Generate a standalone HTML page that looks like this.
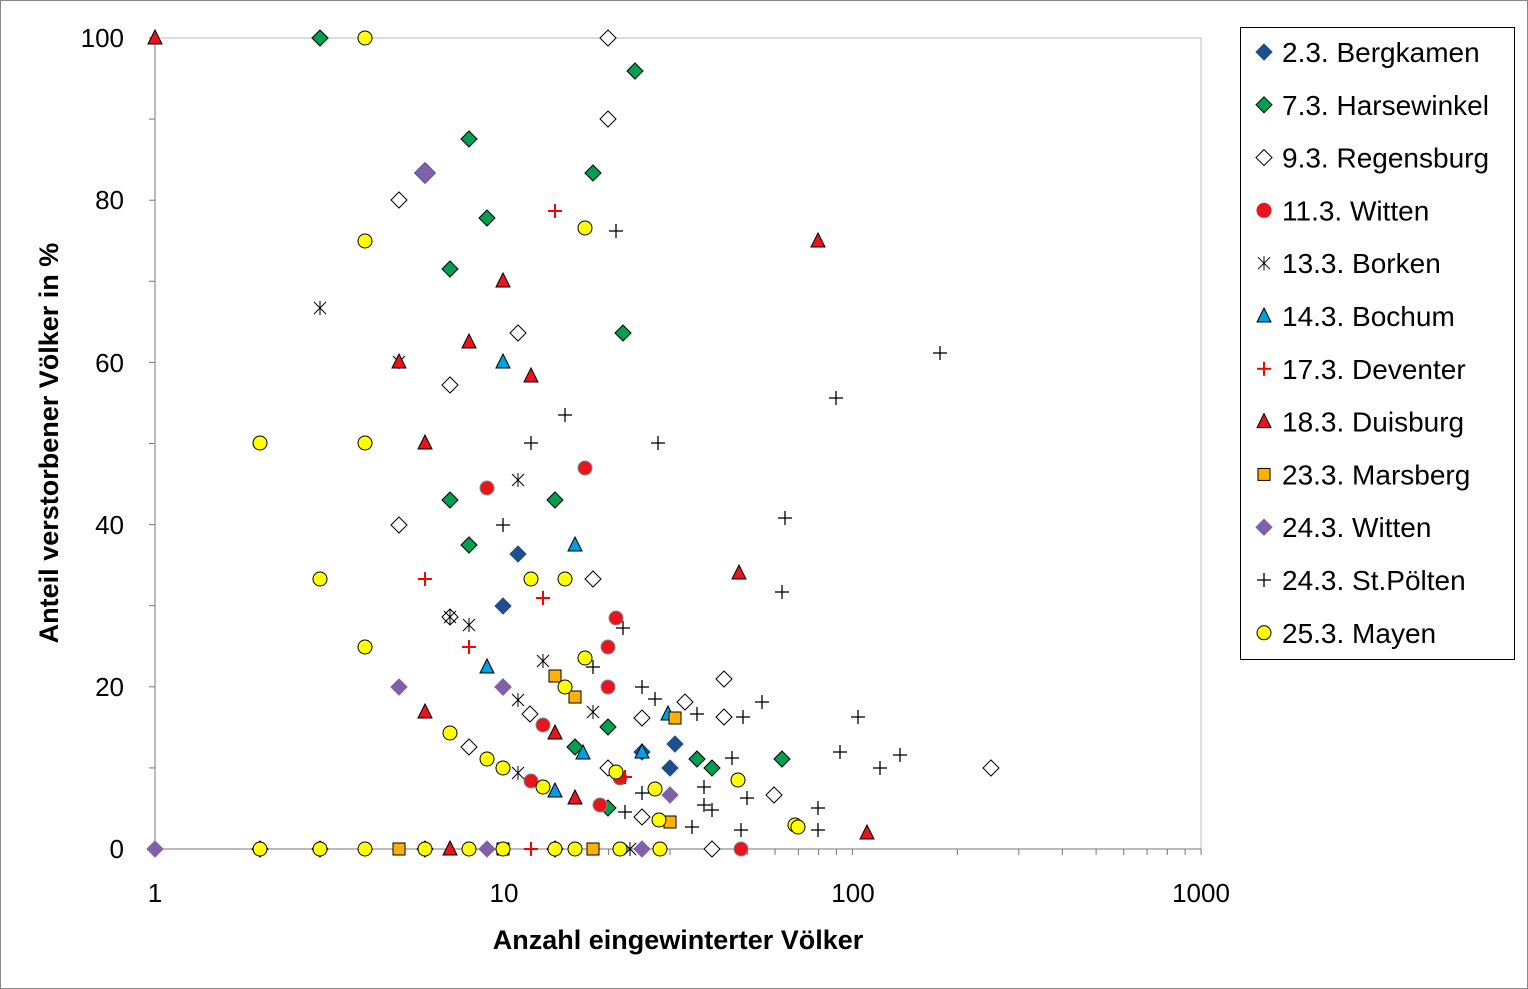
<!DOCTYPE html>
<html><head><meta charset="utf-8"><style>
html,body{margin:0;padding:0;background:#fff}
svg{display:block;font-family:"Liberation Sans",sans-serif}
</style></head><body>
<svg id="s" width="1528" height="989" xmlns="http://www.w3.org/2000/svg">
<rect x="0.5" y="0.5" width="1527" height="988" fill="#fff" stroke="#888"/>
<rect x="155" y="38" width="1046" height="811" fill="none" stroke="#bbb"/>
<g id="ticks" stroke="#777" stroke-width="1"></g>
<line x1="155" y1="38" x2="155" y2="849" stroke="#777"/>
<line x1="155" y1="849" x2="1201" y2="849" stroke="#777"/>
<g font-size="26" fill="#000" text-anchor="end">
<text x="124" y="47">100</text><text x="124" y="209">80</text><text x="124" y="372">60</text>
<text x="124" y="534">40</text><text x="124" y="696">20</text><text x="124" y="858">0</text>
</g>
<g font-size="26" text-anchor="middle">
<text x="155" y="902">1</text><text x="504" y="902">10</text><text x="853" y="902">100</text><text x="1201" y="902">1000</text>
</g>
<text x="678" y="949" font-size="27" font-weight="bold" text-anchor="middle">Anzahl eingewinterter Völker</text>
<text transform="translate(58,443) rotate(-90)" font-size="27" font-weight="bold" text-anchor="middle">Anteil verstorbener Völker in %</text>
<g id="pts"></g>
<rect x="1240.5" y="27.5" width="274" height="632" fill="#fff" stroke="#000"/>
<g id="leg" font-size="28"></g>
</svg>
<script>
const NS="http://www.w3.org/2000/svg";
function el(t,a,p){const e=document.createElementNS(NS,t);for(const k in a)e.setAttribute(k,a[k]);p.appendChild(e);return e;}
const tk=document.getElementById('ticks');
for(let d=0;d<3;d++)for(let i=2;i<=10;i++){const x=155+348.7*(d+Math.log10(i));el('line',{x1:x,y1:849,x2:x,y2:855},tk);}
for(let v=0;v<=100;v+=10){const y=849-8.11*v;el('line',{x1:149,y1:y,x2:155,y2:y},tk);}
function mk(type,x,y,g,s){s=s||1;
 if(type=='dia'){const r=8*s;return el('polygon',{points:`${x},${y-r} ${x+r},${y} ${x},${y+r} ${x-r},${y}`,fill:g.f,stroke:g.s||'#000','stroke-width':g.sw||1},P);}
 if(type=='cir')return el('circle',{cx:x,cy:y,r:7,fill:g.f,stroke:g.s||'#000'},P);
 if(type=='tri')return el('polygon',{points:`${x},${y-8} ${x+7},${y+6} ${x-7},${y+6}`,fill:g.f,stroke:'#000'},P);
 if(type=='sq')return el('rect',{x:x-6,y:y-6,width:12,height:12,fill:g.f,stroke:'#000'},P);
 if(type=='plus'){el('line',{x1:x-7,y1:y,x2:x+7,y2:y,stroke:g.s,'stroke-width':g.sw||1.3},P);return el('line',{x1:x,y1:y-7,x2:x,y2:y+7,stroke:g.s,'stroke-width':g.sw||1.3},P);}
 if(type=='ast'){el('line',{x1:x-6,y1:y-6,x2:x+6,y2:y+6,stroke:'#000'},P);el('line',{x1:x-6,y1:y+6,x2:x+6,y2:y-6,stroke:'#000'},P);return el('line',{x1:x,y1:y-7,x2:x,y2:y+7,stroke:'#000'},P);}
}
let P=document.getElementById('pts');
const S={
white:['dia',{f:'#fff'},[[608,38],[608,119],[399,200],[518,333],[450,385],[399,525],[593,579],[450,617],[503,687],[469,747],[530,714],[608,768],[642,718],[685,702],[724,679],[724,717],[774,795],[991,768],[642,817],[712,849],[260,849],[320,849],[425,849]]],
green:['dia',{f:'#00a050'},[[320,38],[635,71],[469,139],[593,173],[487,218],[450,269],[623,333],[450,500],[555,500],[469,545],[608,727],[697,759],[712,768],[782,759],[575,747],[608,808],[555,849]]],
berg:['dia',{f:'#1f4e8c',s:'#1f4e8c'},[[518,554],[503,606],[675,744],[670,768],[642,752]]],
red:['cir',{f:'#e8141e',s:'#888'},[[487,488],[585,468],[616,618],[608,647],[608,687],[600,805],[543,725],[531,781],[741,849],[620,778]]],
bor:['ast',{},[[320,308],[518,480],[543,661],[518,700],[593,712],[518,773],[399,362],[469,625],[450,617],[630,849]]],
boc:['tri',{f:'#00a0e0'},[[503,362],[575,545],[487,667],[583,753],[642,752],[555,791],[668,714]]],
dev:['plus',{s:'#ff0000',sw:2},[[555,211],[543,598],[425,579],[469,647],[531,849],[625,777]]],
dui:['tri',{f:'#e8141e'},[[155,38],[818,241],[503,281],[469,342],[531,376],[399,362],[425,443],[739,573],[425,712],[555,733],[575,798],[867,833],[450,849]]],
mar:['sq',{f:'#ffb000'},[[555,676],[575,697],[675,718],[670,822],[399,849],[503,849],[593,849]]],
pur:['dia',{f:'#8060a8',s:'#8060a8'},[[399,687],[503,687],[670,795],[155,849],[487,849],[642,849]]],
stp:['plus',{s:'#000'},[[616,231],[565,415],[531,443],[658,443],[503,525],[940,353],[836,398],[785,518],[782,592],[623,628],[593,667],[642,687],[655,699],[697,714],[743,717],[762,702],[858,717],[840,752],[880,768],[900,755],[818,808],[818,830],[747,798],[741,830],[732,758],[692,827],[704,805],[712,810],[704,787],[642,793],[625,812]]],
may:['cir',{f:'#ffff00'},[[365,38],[585,228],[365,241],[260,443],[365,443],[320,579],[531,579],[565,579],[365,647],[585,658],[565,687],[450,733],[487,759],[503,768],[543,787],[616,772],[655,789],[738,780],[659,820],[795,825],[798,827],[660,849],[260,849],[320,849],[365,849],[425,849],[469,849],[503,849],[555,849],[575,849],[620,849]]]
};
for(const k in S){const [t,g,a]=S[k];a.forEach(p=>mk(t,p[0],p[1],g));}
mk('dia',425,173,{f:'#8060a8',s:'#5050a0'},1.3);
const L=document.getElementById('leg');
const items=[['dia',{f:'#1f4e8c',s:'#1f4e8c'},'2.3. Bergkamen'],['dia',{f:'#00a050'},'7.3. Harsewinkel'],['dia',{f:'#fff'},'9.3. Regensburg'],['cir',{f:'#e8141e',s:'#e8141e'},'11.3.  Witten'],['ast',{},'13.3. Borken'],['tri',{f:'#00a0e0'},' 14.3. Bochum'],['plus',{s:'#ff0000',sw:2},'17.3. Deventer'],['tri',{f:'#e8141e'},'18.3. Duisburg'],['sq',{f:'#ffb000'},'23.3. Marsberg'],['dia',{f:'#8060a8',s:'#8060a8'},'24.3. Witten'],['plus',{s:'#000'},'24.3. St.Pölten'],['cir',{f:'#ffff00'},'25.3. Mayen']];
P=L;
items.forEach((it,i)=>{const y=52+i*52.8;mk(it[0],1264,y,it[1]);const t=el('text',{x:1282,y:y+10,'xml:space':'preserve'},L);t.textContent=it[2];});
</script>
</body></html>
